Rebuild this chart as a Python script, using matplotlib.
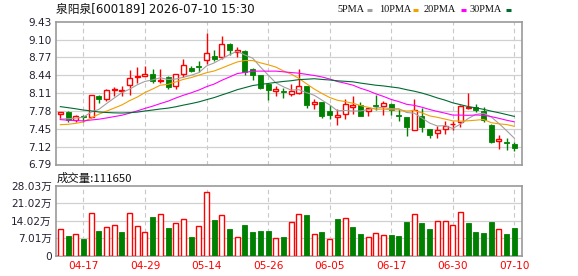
import numpy as np
import matplotlib
matplotlib.use("Agg")
import matplotlib.pyplot as plt
from matplotlib.lines import Line2D

plt.rcParams['font.family'] = ['DejaVu Sans', 'Noto Sans CJK SC']

# ---------------- data ----------------
title = "泉阳泉[600189] 2026-07-10 15:30"
dates = ["04-14", "04-15", "04-16", "04-17", "04-20", "04-21", "04-22", "04-23", "04-24", "04-27",
         "04-28", "04-29", "04-30", "05-06", "05-07", "05-08", "05-11", "05-12", "05-13", "05-14",
         "05-15", "05-18", "05-19", "05-20", "05-21", "05-22", "05-25", "05-26", "05-27", "05-28",
         "05-29", "06-01", "06-02", "06-03", "06-04", "06-05", "06-08", "06-09", "06-10", "06-11",
         "06-12", "06-15", "06-16", "06-17", "06-18", "06-22", "06-23", "06-24", "06-25", "06-26",
         "06-29", "06-30", "07-01", "07-02", "07-03", "07-06", "07-07", "07-08", "07-09", "07-10"]
tick_dates = ["04-17", "04-29", "05-14", "05-26", "06-05", "06-17", "06-30", "07-10"]

opens = [7.72, 7.76, 7.62, 7.68, 7.67, 8.06, 8.01, 8.16, 8.15, 8.26,
         8.41, 8.43, 8.47, 8.33, 8.41, 8.25, 8.47, 8.57, 8.61, 8.73,
         8.79, 8.77, 9.02, 8.87, 8.88, 8.56, 8.44, 8.28, 8.15, 8.15,
         8.10, 8.12, 8.25, 7.90, 7.94, 7.77, 7.66, 7.72, 7.86, 7.89,
         7.77, 7.89, 7.88, 7.90, 7.70, 7.66, 7.43, 7.69, 7.45, 7.38,
         7.45, 7.53, 7.57, 7.84, 7.86, 7.77, 7.52, 7.23, 7.21, 7.16]
highs = [7.76, 7.77, 7.70, 7.71, 8.08, 8.07, 8.18, 8.23, 8.25, 8.53,
         8.59, 8.61, 8.55, 8.55, 8.42, 8.47, 8.74, 8.61, 8.71, 9.23,
         8.91, 9.16, 9.03, 8.96, 8.90, 8.57, 8.45, 8.30, 8.25, 8.21,
         8.27, 8.56, 8.25, 8.00, 7.95, 7.89, 7.82, 8.00, 8.06, 7.94,
         7.84, 8.07, 7.97, 7.92, 7.82, 7.66, 8.01, 7.83, 7.45, 7.51,
         7.60, 7.60, 7.89, 8.11, 7.91, 7.86, 7.53, 7.34, 7.28, 7.20]
lows = [7.64, 7.58, 7.58, 7.58, 7.65, 7.93, 7.97, 8.05, 8.06, 8.08,
        8.30, 8.42, 8.29, 8.30, 8.19, 8.18, 8.40, 8.50, 8.50, 8.64,
        8.70, 8.74, 8.82, 8.78, 8.45, 8.36, 8.18, 7.99, 8.06, 8.02,
        8.06, 8.09, 7.83, 7.82, 7.65, 7.63, 7.52, 7.63, 7.72, 7.69,
        7.69, 7.79, 7.71, 7.71, 7.60, 7.32, 7.42, 7.39, 7.28, 7.28,
        7.36, 7.42, 7.48, 7.82, 7.76, 7.58, 7.18, 7.07, 7.05, 7.04]
closes = [7.76, 7.62, 7.68, 7.66, 8.07, 8.01, 8.16, 8.19, 8.16, 8.39,
          8.42, 8.47, 8.33, 8.36, 8.23, 8.46, 8.63, 8.52, 8.60, 8.85,
          8.74, 9.02, 8.90, 8.91, 8.50, 8.45, 8.21, 8.16, 8.18, 8.13,
          8.15, 8.24, 7.89, 7.94, 7.68, 7.71, 7.70, 7.91, 7.89, 7.69,
          7.83, 7.87, 7.93, 7.79, 7.69, 7.48, 7.80, 7.48, 7.33, 7.42,
          7.51, 7.54, 7.88, 7.85, 7.80, 7.62, 7.20, 7.27, 7.19, 7.10]
# closes of the 29 sessions before the window (estimated, only used for the moving averages)
prior_closes = [8.20, 8.30, 8.35, 8.55, 8.60, 8.45, 8.40, 8.25, 8.20, 8.10,
                7.85, 7.80, 7.78, 7.75, 7.72, 7.70, 7.68, 7.66, 7.62, 7.58,
                7.55, 7.50, 7.40, 7.35, 7.30, 7.60, 7.62, 7.58, 7.60]
# volume in 万 (10k)
volumes = [10.8, 7.7, 8.5, 6.5, 17.3, 9.7, 11.3, 12.2, 9.3, 17.3,
           11.7, 9.3, 15.4, 16.9, 10.9, 13.0, 14.9, 7.3, 11.7, 25.8,
           14.2, 16.5, 10.5, 7.4, 12.2, 9.3, 9.7, 9.7, 7.2, 7.3,
           13.4, 16.6, 16.2, 8.8, 9.3, 6.7, 14.6, 15.3, 11.3, 8.5,
           7.6, 9.2, 8.4, 8.1, 7.7, 13.4, 16.9, 13.0, 10.5, 14.0,
           14.0, 12.2, 17.7, 13.0, 9.3, 8.9, 13.4, 10.8, 8.5, 11.165]
price_ticks = [6.79, 7.12, 7.45, 7.78, 8.11, 8.44, 8.77, 9.10, 9.43]
vol_ticks = [0, 7.01, 14.02, 21.02, 28.03]
ma_periods = [5, 10, 20, 30]
ma_labels = ["5PMA", "10PMA", "20PMA", "30PMA"]
ma_colors = ["#a0a0a0", "#f0a000", "#ff00ff", "#006a30"]

# ---------------- derived ----------------
o = np.array(opens); h = np.array(highs); l = np.array(lows); c = np.array(closes)
v = np.array(volumes)
n = len(c)
x = np.arange(n)
allc = np.array(prior_closes + closes)
npre = len(prior_closes)
mas = []
for p in ma_periods:
    m = np.convolve(allc, np.ones(p) / p, mode='valid')  # m[k] = mean(allc[k:k+p])
    mas.append(m[npre - p + 1:])
prevc = np.concatenate([[prior_closes[-1]], c[:-1]])

RED = "#ff0000"
GREEN = "#008000"
GRID = "#d0d0d0"
FRAME = "#999999"
TXT = "#222233"

W, H = 578, 276
fig = plt.figure(figsize=(W / 100, H / 100), dpi=100)
L, R = 56 / W, 522.3 / W
ax = fig.add_axes([L, 1 - 164.5 / H, R - L, (164.5 - 21.7) / H])
axv = fig.add_axes([L, 1 - 255.5 / H, R - L, (255.5 - 186) / H])

xlim = (-0.56, n - 1 + 1.04)
tick_idx = [dates.index(d) for d in tick_dates]

for a in (ax, axv):
    a.set_xlim(*xlim)
    for s in a.spines.values():
        s.set_color(FRAME)
        s.set_linewidth(1.2)
    a.tick_params(length=0, labelsize=7.6, labelcolor=TXT, pad=3)
    for t in tick_idx:
        a.axvline(t, color="#c8c8c8", lw=0.8, ls=(0, (4, 3)), zorder=0)

# price panel
ax.set_ylim(price_ticks[0], price_ticks[-1])
ax.set_yticks(price_ticks)
ax.set_yticklabels([f"{t:.2f}" for t in price_ticks])
for t in price_ticks[1:-1]:
    ax.axhline(t, color=GRID, lw=0.9, zorder=0)
ax.set_xticks([])

bw = 0.65
up = c >= o
for i in range(n):
    col = RED if up[i] else GREEN
    top = max(o[i], c[i]); bot = min(o[i], c[i])
    ax.vlines(x[i], top, h[i], color=col, lw=1.0, zorder=2)
    ax.vlines(x[i], l[i], bot, color=col, lw=1.0, zorder=2)
    body = max(top - bot, 0.012)
    if up[i]:
        ax.bar(x[i], body, bw, bottom=bot, facecolor="white", edgecolor=col, lw=1.0, zorder=3)
    else:
        ax.bar(x[i], body, bw, bottom=bot, facecolor=col, edgecolor=col, lw=0.6, zorder=3)

for m, col in zip(mas, ma_colors):
    ax.plot(x, m, color=col, lw=0.8, zorder=4)

# volume panel
axv.set_ylim(vol_ticks[0], vol_ticks[-1])
axv.set_yticks(vol_ticks)
axv.set_yticklabels(["0"] + [f"{t:.2f}万" for t in vol_ticks[1:]])
for t in vol_ticks[1:-1]:
    axv.axhline(t, color=GRID, lw=0.9, zorder=0)
vup = c > prevc
for i in range(n):
    if vup[i]:
        axv.bar(x[i], v[i], bw, facecolor="white", edgecolor=RED, lw=1.0, zorder=3)
    else:
        axv.bar(x[i], v[i], bw, facecolor=GREEN, edgecolor=GREEN, lw=0.6, zorder=3)
axv.set_xticks(tick_idx)
axv.set_xticklabels(tick_dates, color=RED)
axv.tick_params(axis='x', labelcolor=RED, pad=4)

# texts
fig.text(L, 1 - 9.5 / H, title, ha='left', va='center', fontsize=8.5, color="#111111")
fig.text(57 / W, 1 - 178 / H, f"成交量:{int(round(v[-1] * 10000))}", ha='left', va='center',
         fontsize=8.2, color="#111111", family=['Noto Sans CJK SC', 'DejaVu Sans'])

leg_x = [337, 379, 424, 470]
dash_x = [367, 413, 461, 506]
for lab, col, lx, dx in zip(ma_labels, ma_colors, leg_x, dash_x):
    fig.text(lx / W, 1 - 9.5 / H, lab, ha='left', va='center', fontsize=7.4,
             color="#111111", family=['Liberation Serif'])
    fig.add_artist(Line2D([dx / W, (dx + 5) / W], [1 - 9.5 / H, 1 - 9.5 / H],
                          transform=fig.transFigure, color=col, lw=2.2, solid_capstyle='butt'))

fig.savefig("out.png", dpi=100, facecolor="white")
